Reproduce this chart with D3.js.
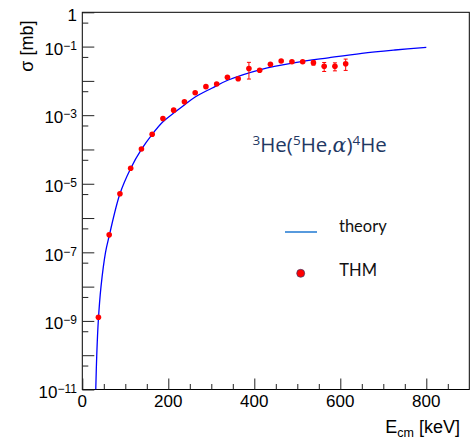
<!DOCTYPE html>
<html>
<head>
<meta charset="utf-8">
<script src="https://cdn.jsdelivr.net/npm/d3@7"></script>
<style>
  html, body { margin: 0; padding: 0; background: #ffffff; }
  svg { display: block; }
  .tick-lbl { font-family: "Liberation Sans", Arial, Helvetica, sans-serif; fill: #000; }
</style>
</head>
<body>
<svg id="chart" width="470" height="440"></svg>
<script>
// THM data: centre-of-mass energy (keV), cross section (mb) and its error (mb)
const energy = [37.5, 62.5, 87.5, 112.5, 137.5, 162.5, 187.5, 212.5, 237.5, 262.5,
                287.5, 312.5, 337.5, 362.5, 387.5, 412.5, 437.5, 462.5, 487.5, 512.5,
                537.5, 562.5, 587.5, 612.5];
const sigma = [1.28e-9, 3.24e-7, 5.1e-6, 2.84e-5, 1.03e-4, 2.79e-4, 8.0e-4, 1.40e-3, 2.45e-3, 4.5e-3,
               6.8e-3, 8.1e-3, 1.27e-2, 1.15e-2, 2.3e-2, 2.04e-2, 3.05e-2, 3.8e-2, 3.62e-2, 3.62e-2,
               3.39e-2, 2.66e-2, 2.66e-2, 3.17e-2];
const sigmaErr = [0, 0, 0, 0, 0, 0, 0, 0, 0, 0,
                  0, 0, 0, 0, 1.17e-2, 0, 0, 0, 0, 0,
                  0.5e-2, 0.78e-2, 0.7e-2, 1.15e-2];

// Theoretical excitation function
const theoryE = [31.3, 33.6, 37.2, 43.5, 54, 62.5, 87.5, 112.5, 137.5, 162.5, 187.5, 212.5,
                 237.5, 262.5, 301, 339.5, 417, 495, 572, 650, 727, 800];
const theorySigma = [1e-11, 1e-10, 1e-9, 1e-8, 1e-7, 3.0e-7, 5.1e-6, 2.8e-5, 1.0e-4, 2.75e-4, 6.4e-4, 1.15e-3,
                     1.98e-3, 3.4e-3, 6.1e-3, 1.06e-2, 2.18e-2, 3.4e-2, 4.7e-2, 6.37e-2, 7.96e-2, 9.5e-2];

// Axis ticks
const xMajorTicks = [0, 200, 400, 600, 800];
const xMinorTicks = [50, 100, 150, 250, 300, 350, 450, 500, 550, 650, 700, 750, 850];
const yMajorTicks = [1, 1e-1, 1e-2, 1e-3, 1e-4, 1e-5, 1e-6, 1e-7, 1e-8, 1e-9, 1e-10, 1e-11];
const yMinorTicks = [5e-1, 5e-2, 5e-3, 5e-4, 5e-5, 5e-6, 5e-7, 5e-8, 5e-9, 5e-10, 5e-11];
const yLabelExponents = [0, -1, -3, -5, -7, -9, -11];

const svg = d3.select("#chart");
const frameL = 82.3, frameR = 469.3, frameT = 12.3, frameB = 389.5;

const x = d3.scaleLinear().domain([0, 900]).range([frameL, frameR]);
const y = d3.scaleLog().domain([1e-11, 1]).range([frameB, frameT]);

svg.append("rect").attr("width", 470).attr("height", 440).attr("fill", "#fff");

// clip region for the curve
svg.append("clipPath").attr("id", "plotClip")
  .append("rect").attr("x", frameL).attr("y", frameT).attr("width", frameR - frameL).attr("height", frameB - frameT);

// frame
svg.append("rect")
  .attr("x", frameL).attr("y", frameT)
  .attr("width", frameR - frameL).attr("height", frameB - frameT)
  .attr("fill", "none").attr("stroke", "#000").attr("stroke-width", 1);

// ticks (drawn inward)
function tickAxis(axis, transform) {
  const g = svg.append("g").attr("transform", transform).call(axis);
  g.select(".domain").remove();
  g.selectAll(".tick line").attr("stroke", "#222").attr("stroke-width", 1);
  g.selectAll(".tick text").remove();
  return g;
}
tickAxis(d3.axisBottom(x).tickValues(xMajorTicks).tickSize(-11), `translate(0,${frameB})`);
tickAxis(d3.axisBottom(x).tickValues(xMinorTicks).tickSize(-5.5), `translate(0,${frameB})`);
tickAxis(d3.axisLeft(y).tickValues(yMajorTicks).tickSize(-12), `translate(${frameL},0)`);
tickAxis(d3.axisLeft(y).tickValues(yMinorTicks).tickSize(-6), `translate(${frameL},0)`);

// x tick labels
svg.append("g").selectAll("text").data(xMajorTicks).join("text")
  .attr("class", "tick-lbl")
  .attr("x", d => x(d)).attr("y", 406.5)
  .attr("text-anchor", "middle").attr("font-size", 17)
  .text(d => d);

// y tick labels: 1 and powers of ten
const yl = svg.append("g").selectAll("text").data(yLabelExponents).join("text")
  .attr("class", "tick-lbl")
  .attr("x", 77).attr("y", d => y(Math.pow(10, d)) + 8.3)
  .attr("text-anchor", "end").attr("font-size", 17);
yl.each(function(d) {
  const t = d3.select(this);
  if (d === 0) { t.text("1"); return; }
  t.append("tspan").text("10");
  t.append("tspan").attr("font-size", 12).attr("dy", -5).text("\u2212" + Math.abs(d));
});

// axis titles
svg.append("text").attr("class", "tick-lbl")
  .attr("transform", "translate(33,20.5) rotate(-90)")
  .attr("text-anchor", "end").attr("font-size", 18)
  .text("\u03c3 [mb]");

const xt = svg.append("text").attr("class", "tick-lbl")
  .attr("x", 460).attr("y", 433.3).attr("text-anchor", "end").attr("font-size", 18);
xt.append("tspan").text("E");
xt.append("tspan").attr("font-size", 12.5).attr("dy", 4).text("cm");
xt.append("tspan").attr("dy", -4).text(" [keV]");

// theory curve
const line = d3.line()
  .x(d => x(d[0])).y(d => y(d[1]))
  .curve(d3.curveCatmullRom.alpha(0.5));
svg.append("path")
  .datum(theoryE.map((e, i) => [e, theorySigma[i]]))
  .attr("clip-path", "url(#plotClip)")
  .attr("d", line)
  .attr("fill", "none").attr("stroke", "#0000ff").attr("stroke-width", 1.3);

// data points with error bars
const pts = energy.map((e, i) => ({ e, s: sigma[i], err: sigmaErr[i] }));
const eg = svg.append("g").attr("stroke", "#ff0000").attr("stroke-width", 1);
const withErr = pts.filter(p => p.err > 0);
eg.selectAll("line.bar").data(withErr).join("line").attr("class", "bar")
  .attr("x1", p => x(p.e)).attr("x2", p => x(p.e))
  .attr("y1", p => y(p.s + p.err)).attr("y2", p => y(p.s - p.err));
eg.selectAll("line.capTop").data(withErr).join("line").attr("class", "capTop")
  .attr("x1", p => x(p.e) - 2).attr("x2", p => x(p.e) + 2)
  .attr("y1", p => y(p.s + p.err)).attr("y2", p => y(p.s + p.err));
eg.selectAll("line.capBot").data(withErr).join("line").attr("class", "capBot")
  .attr("x1", p => x(p.e) - 2).attr("x2", p => x(p.e) + 2)
  .attr("y1", p => y(p.s - p.err)).attr("y2", p => y(p.s - p.err));

svg.append("g").selectAll("circle").data(pts).join("circle")
  .attr("cx", p => x(p.e)).attr("cy", p => y(p.s))
  .attr("r", 2.8).attr("fill", "#ff0000");

// reaction label
const rx = svg.append("text")
  .attr("x", 252.5).attr("y", 152.3)
  .attr("font-family", "'Open Sans', Lato, sans-serif")
  .attr("font-size", 20.5).attr("fill", "#1f3864");
rx.append("tspan").attr("font-size", 13.5).attr("dy", -7.5).text("3");
rx.append("tspan").attr("dy", 7.5).text("He(");
rx.append("tspan").attr("font-size", 13.5).attr("dy", -7.5).text("5");
rx.append("tspan").attr("dy", 7.5).text("He,");
rx.append("tspan").attr("font-family", "'DejaVu Serif', serif").attr("font-style", "italic").text("\u03b1");
rx.append("tspan").text(")");
rx.append("tspan").attr("font-size", 13.5).attr("dy", -7.5).text("4");
rx.append("tspan").attr("dy", 7.5).text("He");

// legend
svg.append("line")
  .attr("x1", 285).attr("x2", 317).attr("y1", 232).attr("y2", 232)
  .attr("stroke", "#1f78d2").attr("stroke-width", 1.5);
svg.append("text")
  .attr("x", 339).attr("y", 231.7)
  .attr("font-family", "Lato, 'Open Sans', sans-serif").attr("font-size", 16.5).attr("fill", "#111")
  .text("theory");
svg.append("circle")
  .attr("cx", 300.7).attr("cy", 273.3).attr("r", 4)
  .attr("fill", "#ff0000").attr("stroke", "#3a3a6a").attr("stroke-width", 0.7);
svg.append("text")
  .attr("x", 339.3).attr("y", 275.7)
  .attr("font-family", "Lato, 'Open Sans', sans-serif").attr("font-size", 16.5).attr("fill", "#111")
  .text("THM");
</script>
</body>
</html>
